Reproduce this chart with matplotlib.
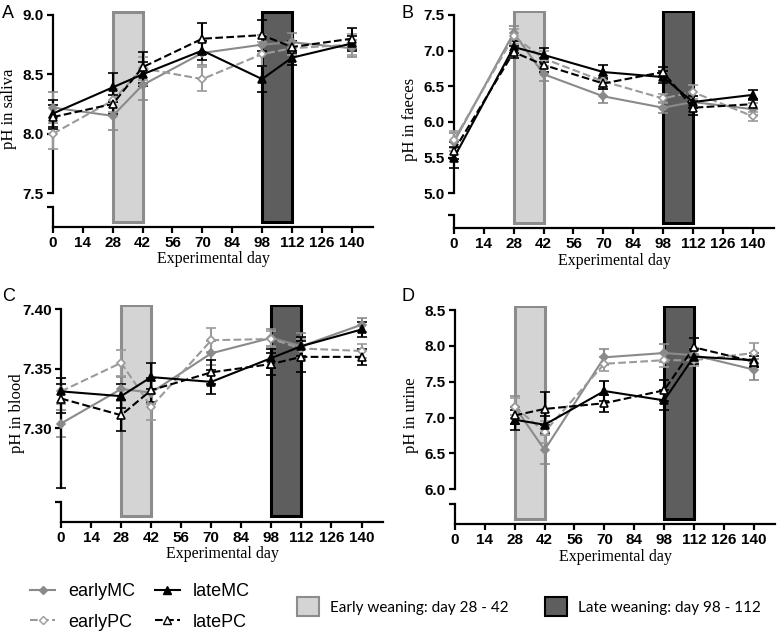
import numpy as np
import matplotlib
matplotlib.use("Agg")
import matplotlib.pyplot as plt
from matplotlib.lines import Line2D
from matplotlib.patches import Patch

days = [0, 28, 42, 70, 98, 112, 140]
days_urine = [28, 42, 70, 98, 112, 140]
xticks = list(range(0, 141, 14))
early_weaning = (28, 42)
late_weaning = (98, 112)
groups = ["earlyMC", "earlyPC", "lateMC", "latePC"]

# A - saliva
saliva_earlyMC = [8.22, 8.15, 8.41, 8.68, 8.75, 8.77, 8.72]
saliva_earlyPC = [8.00, 8.28, 8.55, 8.46, 8.67, 8.72, 8.75]
saliva_lateMC = [8.17, 8.39, 8.50, 8.70, 8.46, 8.64, 8.76]
saliva_latePC = [8.14, 8.25, 8.56, 8.80, 8.83, 8.73, 8.80]
saliva_earlyMC_err = [0.13, 0.12, 0.13, 0.10, 0.08, 0.08, 0.07]
saliva_earlyPC_err = [0.13, 0.10, 0.10, 0.10, 0.10, 0.06, 0.09]
saliva_lateMC_err = [0.11, 0.12, 0.10, 0.08, 0.11, 0.06, 0.06]
saliva_latePC_err = [0.10, 0.08, 0.13, 0.13, 0.13, 0.05, 0.09]

# B - faeces
faeces_earlyMC = [5.72, 7.25, 6.67, 6.36, 6.20, 6.28, 6.18]
faeces_earlyPC = [5.75, 7.20, 6.89, 6.57, 6.33, 6.42, 6.08]
faeces_lateMC = [5.50, 7.05, 6.94, 6.70, 6.63, 6.28, 6.38]
faeces_latePC = [5.60, 6.98, 6.80, 6.54, 6.70, 6.20, 6.25]
faeces_earlyMC_err = [0.12, 0.10, 0.10, 0.10, 0.08, 0.08, 0.08]
faeces_earlyPC_err = [0.12, 0.10, 0.10, 0.08, 0.06, 0.10, 0.06]
faeces_lateMC_err = [0.15, 0.08, 0.10, 0.10, 0.08, 0.08, 0.07]
faeces_latePC_err = [0.12, 0.08, 0.10, 0.08, 0.07, 0.10, 0.07]

# C - blood
blood_earlyMC = [7.304, 7.333, 7.330, 7.363, 7.376, 7.369, 7.387]
blood_earlyPC = [7.331, 7.355, 7.318, 7.374, 7.375, 7.367, 7.365]
blood_lateMC = [7.331, 7.327, 7.343, 7.339, 7.359, 7.369, 7.383]
blood_latePC = [7.325, 7.311, 7.332, 7.347, 7.354, 7.360, 7.360]
blood_earlyMC_err = [0.011, 0.010, 0.010, 0.010, 0.007, 0.011, 0.006]
blood_earlyPC_err = [0.011, 0.011, 0.011, 0.010, 0.007, 0.008, 0.006]
blood_lateMC_err = [[0.081, 0.010, 0.010, 0.010, 0.008, 0.008, 0.006],
                    [0.011, 0.010, 0.012, 0.010, 0.008, 0.008, 0.006]]
blood_latePC_err = [0.012, 0.013, 0.010, 0.010, 0.009, 0.013, 0.007]

# D - urine
urine_earlyMC = [7.15, 6.55, 7.84, 7.90, 7.87, 7.67]
urine_earlyPC = [7.15, 6.80, 7.75, 7.80, 7.80, 7.90]
urine_lateMC = [6.97, 6.90, 7.37, 7.24, 7.85, 7.80]
urine_latePC = [7.03, 7.12, 7.20, 7.38, 7.98, 7.78]
urine_earlyMC_err = [0.15, 0.20, 0.11, 0.12, 0.10, 0.14]
urine_earlyPC_err = [0.12, 0.15, 0.10, 0.10, 0.08, 0.14]
urine_lateMC_err = [0.14, 0.12, 0.14, 0.14, 0.10, 0.10]
urine_latePC_err = [0.12, 0.23, 0.12, 0.15, 0.13, 0.08]

W, H = 777, 639
GRAY = "#8a8a8a"
styles = {
    "earlyMC": dict(color=GRAY, ls="-", marker="D", mfc=GRAY, ms=4.5),
    "earlyPC": dict(color="#9a9a9a", ls="--", marker="D", mfc="white", ms=4.5),
    "lateMC": dict(color="black", ls="-", marker="^", mfc="black", ms=5.5),
    "latePC": dict(color="black", ls="--", marker="^", mfc="white", ms=5.5),
}

fig = plt.figure(figsize=(W / 100, H / 100), dpi=100)


def add_px_axes(left, right, top, bottom):
    return fig.add_axes([left / W, 1 - bottom / H, (right - left) / W, (bottom - top) / H])


panels = [
    ("A", "pH in saliva", days,
     [saliva_earlyMC, saliva_earlyPC, saliva_lateMC, saliva_latePC],
     [saliva_earlyMC_err, saliva_earlyPC_err, saliva_lateMC_err, saliva_latePC_err],
     (53, 373, 11.4, 227), (7.214, 9.03), [7.5, 8.0, 8.5, 9.0], "%.1f", 7.382, 0.55),
    ("B", "pH in faeces", days,
     [faeces_earlyMC, faeces_earlyPC, faeces_lateMC, faeces_latePC],
     [faeces_earlyMC_err, faeces_earlyPC_err, faeces_lateMC_err, faeces_latePC_err],
     (454, 774, 10.7, 228.3), (4.51, 7.56), [5.0, 5.5, 6.0, 6.5, 7.0, 7.5], "%.1f", 4.70, 0.5),
    ("C", "pH in blood", days,
     [blood_earlyMC, blood_earlyPC, blood_lateMC, blood_latePC],
     [blood_earlyMC_err, blood_earlyPC_err, blood_lateMC_err, blood_latePC_err],
     (61, 383, 304.5, 521.6), (7.2216, 7.404), [7.30, 7.35, 7.40], "%.2f", 7.238, 0.5),
    ("D", "pH in urine", days_urine,
     [urine_earlyMC, urine_earlyPC, urine_lateMC, urine_latePC],
     [urine_earlyMC_err, urine_earlyPC_err, urine_lateMC_err, urine_latePC_err],
     (455, 775, 305.7, 524.4), (5.51, 8.56), [6.0, 6.5, 7.0, 7.5, 8.0, 8.5], "%.1f", 5.80, 0.5),
]
spine_low = {"A": 7.5, "B": 5.0, "C": 7.25, "D": 6.0}

for letter, ylabel, x, series, errs, px, ylim, yticks, fmt, brk, ylab_y in panels:
    ax = add_px_axes(*px)
    ax.set_xlim(0, 150)
    ax.set_ylim(*ylim)

    ax.axvspan(*early_weaning, ymin=0.025, ymax=0.997, fc="#d4d4d4", ec="#8c8c8c", lw=2.2, zorder=1)
    ax.axvspan(*late_weaning, ymin=0.025, ymax=0.997, fc="#5e5e5e", ec="black", lw=2.2, zorder=1)

    for g, y, e in zip(groups, series, errs):
        st = styles[g]
        ax.errorbar(x, y, yerr=e, color=st["color"], ls=st["ls"], lw=1.5,
                    marker=st["marker"], ms=st["ms"], mfc=st["mfc"], mec=st["color"], mew=1.2,
                    ecolor=st["color"], elinewidth=1.5, capsize=3.5, capthick=1.5,
                    zorder=3, clip_on=False)

    for s in ["top", "right"]:
        ax.spines[s].set_visible(False)
    ax.spines["left"].set_bounds(spine_low[letter], yticks[-1])
    ax.spines["left"].set_linewidth(1.6)
    ax.spines["bottom"].set_linewidth(1.6)
    # lower piece of the broken y axis
    tr = ax.get_yaxis_transform()
    ax.plot([0, 0], [ylim[0], brk], color="black", lw=1.6, transform=tr, clip_on=False, zorder=4)
    ax.plot([0], [brk], marker=0, ms=4, mew=1.6, color="black", transform=tr, clip_on=False, zorder=4)

    ax.set_xticks(xticks)
    ax.set_yticks(yticks)
    ax.set_yticklabels([fmt % v for v in yticks])
    ax.tick_params(direction="out", length=4, width=1.6, pad=2.5)
    for lab in ax.get_xticklabels() + ax.get_yticklabels():
        lab.set_fontfamily("Liberation Sans")
        lab.set_fontweight("bold")
        lab.set_fontsize(11)

    ax.set_xlabel("Experimental day", fontfamily="Liberation Serif", fontsize=11.5, labelpad=1)
    ax.set_ylabel(ylabel, fontfamily="Liberation Serif", fontsize=12)
    ax.yaxis.set_label_coords(-36 / (px[1] - px[0]), ylab_y)

    lx = 2 if letter in "AC" else 401
    ly = 5 if letter in "AB" else 288
    fig.text(lx / W, 1 - ly / H, letter, fontfamily="Liberation Sans", fontsize=13, va="top", ha="left")

line_handles = [Line2D([], [], color=styles[g]["color"], ls=styles[g]["ls"], lw=1.5,
                       marker=styles[g]["marker"], ms=styles[g]["ms"], mfc=styles[g]["mfc"],
                       mec=styles[g]["color"]) for g in groups]
fig.legend(line_handles, groups, ncol=2, loc="upper left", bbox_to_anchor=(30 / W, 1 - 583 / H),
           frameon=False, prop={"family": "Liberation Sans", "size": 13}, handlelength=1.4,
           handletextpad=0.7, columnspacing=1.1, labelspacing=0.75, borderpad=0, borderaxespad=0)

patch_handles = [Patch(fc="#d4d4d4", ec="#8c8c8c", lw=1.5), Patch(fc="#5e5e5e", ec="black", lw=1.5)]
fig.legend(patch_handles, ["Early weaning: day 28 - 42", "Late weaning: day 98 - 112"], ncol=2,
           loc="upper left", bbox_to_anchor=(297 / W, 1 - 597 / H), frameon=False,
           prop={"family": "Lato", "size": 11}, handlelength=1.45, handleheight=1.55,
           handletextpad=0.7, columnspacing=2.4, borderpad=0, borderaxespad=0)

fig.savefig("out.png", dpi=100)
